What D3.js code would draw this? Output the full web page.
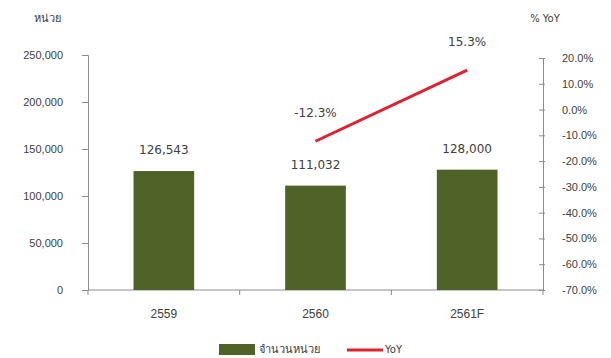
<!DOCTYPE html>
<html>
<head>
<meta charset="utf-8">
<script src="https://cdn.jsdelivr.net/npm/d3@7"></script>
<style>
  html, body { margin: 0; padding: 0; background: #fff; }
  svg { display: block; font-family: "DejaVu Sans", Verdana, sans-serif; }
</style>
</head>
<body>
<svg id="chart" width="611" height="358"></svg>
<script>
// Housing units per year with year-over-year change
const categories = ["2559", "2560", "2561F"];
const units = [126543, 111032, 128000];
const yoy = [null, -12.3, 15.3];
const leftTicks = [0, 50000, 100000, 150000, 200000, 250000];
const rightTicks = [20, 10, 0, -10, -20, -30, -40, -50, -60, -70];

const svg = d3.select("#chart");
const plot = { left: 88, right: 543, top: 55, bottom: 290 };
const textColor = "#404040";
const axisColor = "#8c8c8c";

const xBand = d3.scaleBand().domain(categories).range([plot.left, plot.right]);
const yL = d3.scaleLinear().domain([0, 250000]).range([plot.bottom, plot.top]);
const yR = d3.scaleLinear().domain([-70, 20]).range([plot.bottom, 58]);

const fmtN = d3.format(",");
const fmtP = d => d3.format(".1f")(d).replace("\u2212", "-") + "%";

// left axis
const gL = svg.append("g").attr("transform", `translate(${plot.left},0)`)
  .call(d3.axisLeft(yL).tickValues(leftTicks).tickFormat(d => fmtN(d)).tickSize(6).tickPadding(19));
// right axis
const gR = svg.append("g").attr("transform", `translate(${plot.right},0)`)
  .call(d3.axisRight(yR).tickValues(rightTicks).tickFormat(fmtP).tickSize(0).tickPadding(19));
gR.selectAll(".tick").append("line").attr("x1", -4).attr("x2", 2).attr("stroke", axisColor);
// bottom axis
const gB = svg.append("g").attr("transform", `translate(0,${plot.bottom})`)
  .call(d3.axisBottom(xBand).tickSize(0).tickPadding(19));
const edges = [plot.left].concat(categories.map(c => xBand(c) + xBand.bandwidth()));
gB.selectAll(".edge").data(edges).join("line").attr("class", "edge")
  .attr("x1", d => d).attr("x2", d => d).attr("y1", 0).attr("y2", 5).attr("stroke", axisColor);

[gL, gR, gB].forEach(g => {
  g.select(".domain").attr("stroke", axisColor);
  g.selectAll(".tick line").attr("stroke", axisColor);
  g.selectAll("text").attr("fill", textColor).style("font-size", "11px");
});
gB.selectAll("text").style("font-size", "12px");
gB.select(".domain").attr("d", `M${plot.left},0H${plot.right}`);

// bars
svg.append("g").selectAll("rect").data(units).join("rect")
  .attr("x", (d, i) => xBand(categories[i]) + xBand.bandwidth() * 0.3)
  .attr("width", xBand.bandwidth() * 0.4)
  .attr("y", d => yL(d))
  .attr("height", d => yL(0) - yL(d))
  .attr("fill", "#4f6228");

svg.append("g").selectAll("text").data(units).join("text")
  .attr("x", (d, i) => xBand(categories[i]) + xBand.bandwidth() / 2)
  .attr("y", d => yL(d) - 17)
  .attr("text-anchor", "middle")
  .attr("fill", textColor)
  .style("font-size", "12px")
  .text(d => fmtN(d));

// YoY line
const pts = yoy.map((v, i) => ({ c: categories[i], v })).filter(p => p.v !== null);
const line = d3.line().x(p => xBand(p.c) + xBand.bandwidth() / 2).y(p => yR(p.v));
svg.append("path").datum(pts).attr("d", line)
  .attr("fill", "none").attr("stroke", "#e0202f").attr("stroke-width", 3);

svg.append("g").selectAll("text").data(pts).join("text")
  .attr("x", p => xBand(p.c) + xBand.bandwidth() / 2)
  .attr("y", p => yR(p.v) - 24)
  .attr("text-anchor", "middle")
  .attr("fill", textColor)
  .style("font-size", "12px")
  .text(p => fmtP(p.v));

// axis titles
svg.append("text").attr("x", 47).attr("y", 22).attr("text-anchor", "middle")
  .attr("fill", textColor).style("font-size", "11px").text("หน่วย");
svg.append("text").attr("x", 545).attr("y", 22).attr("text-anchor", "middle")
  .attr("fill", textColor).style("font-size", "10px").text("% YoY");

// legend
const lg = svg.append("g").attr("transform", "translate(219,349)");
lg.append("rect").attr("x", 0).attr("y", -5).attr("width", 36).attr("height", 11).attr("fill", "#4f6228");
lg.append("text").attr("x", 40).attr("y", 4).attr("fill", textColor).style("font-size", "11px").text("จำนวนหน่วย");
lg.append("line").attr("x1", 128).attr("x2", 164).attr("y1", 1).attr("y2", 1)
  .attr("stroke", "#e0202f").attr("stroke-width", 3);
lg.append("text").attr("x", 166).attr("y", 4).attr("fill", textColor).style("font-size", "10px").text("YoY");
</script>
</body>
</html>
